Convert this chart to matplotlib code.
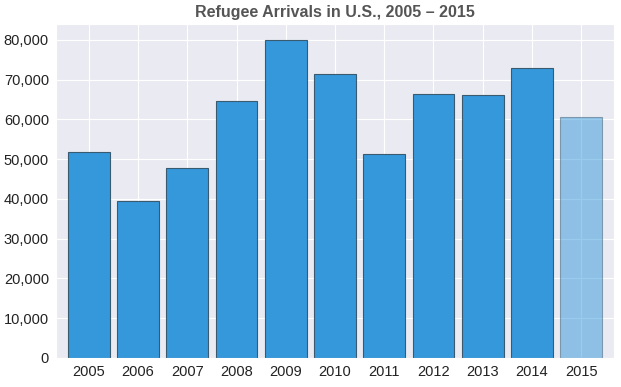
import matplotlib
matplotlib.use("Agg")
import matplotlib.pyplot as plt
import seaborn as sns
from matplotlib.ticker import FuncFormatter

years = ["2005", "2006", "2007", "2008", "2009", "2010",
         "2011", "2012", "2013", "2014", "2015"]
arrivals = [51900, 39400, 47900, 64700, 80000, 71500,
            51400, 66400, 66200, 73000, 60600]

sns.set_style("darkgrid")
plt.rcParams['font.family'] = ['Liberation Sans', 'DejaVu Sans']

fig, ax = plt.subplots(figsize=(6.21, 3.87), dpi=100)
bars = ax.bar(range(len(years)), arrivals, width=0.85, color="#3498db",
              edgecolor="#3a5a70", linewidth=0.8)
# last year is partial -> lighter
bars[-1].set_alpha(0.5)

ax.set_xticks(range(len(years)))
ax.set_xticklabels(years)
ax.set_xlim(-0.67, len(years) - 1 + 0.67)
ax.set_ylim(0, 84000)
ax.set_yticks(range(0, 80001, 10000))
ax.yaxis.set_major_formatter(FuncFormatter(lambda v, p: f"{int(v):,}"))
ax.tick_params(axis="both", labelsize=10.5, colors="#222222", length=0, pad=5)
ax.set_title("Refugee Arrivals in U.S., 2005 \u2013 2015", fontsize=11.5,
             fontweight="bold", color="#555555", pad=5)

fig.subplots_adjust(left=0.09, right=0.989, top=0.938, bottom=0.075)
plt.savefig("out.png")
